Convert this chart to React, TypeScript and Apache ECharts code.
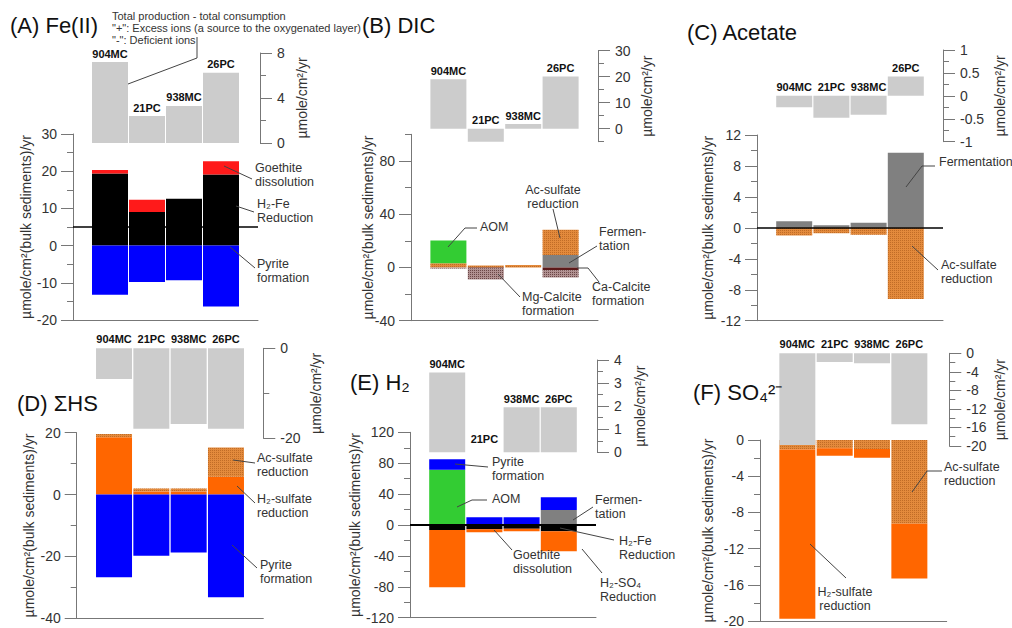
import React, { useEffect, useRef } from 'react';
import * as echarts from 'echarts';

// ---------- categories ----------
const sites = ['904MC', '21PC', '938MC', '26PC'];
const cats = ['L', ...sites, 'R'];

// ---------- (A) Fe(II) ----------
const feNet = [7.2, 2.4, 3.3, 6.25];
const feH2FeReduction = [19.4, 9.0, 12.6, 19.1];
const feGoethite = [0.9, 3.3, 0, 3.6];
const fePyrite = [-13.2, -9.8, -9.3, -16.4];
const feRefLine = 5;

// ---------- (B) DIC ----------
const dicNet = [19, -7.3, 1.8, 20.1];
const dicFermentation = [0, 0, 0, 9.3];
const dicAcSulfate = [3.2, 1.5, 1.8, 19.0];
const dicAOM = [17.0, 0, 0, 0];
const dicCaCalcite = [0, -0.7, 0, -2.2];
const dicMgCalcite = [-0.8, -8.3, 0, -5.3];

// ---------- (C) Acetate ----------
const acNet = [-0.25, -0.48, -0.41, 0.42];
const acFermentation = [0.85, 0.35, 0.65, 9.7];
const acAcSulfate = [-1.0, -0.7, -0.9, -9.2];

// ---------- (D) ΣHS ----------
const hsNet = [-6.8, -17.9, -16.8, -17.9];
const hsH2Sulfate = [18.5, 1.0, 1.0, 5.8];
const hsAcSulfate = [1.1, 1.0, 1.0, 9.4];
const hsPyrite = [-26.7, -19.8, -18.7, -33.2];

// ---------- (E) H2 ----------
const h2Net = [3.46, 0, 1.95, 1.95];
const h2Fermentation = [0, 0, 0, 19.5];
const h2AOM = [71.5, 0, 0, 0];
const h2Pyrite = [13.5, 10, 10, 16.5];
const h2H2FeReduction = [-6.5, -5.5, -5.0, -8.0];
const h2H2SO4Reduction = [-74, -4, -3, -26];

// ---------- (F) SO4 ----------
const so4Net = [-19.8, -1.9, -2.15, -15.3];
const so4AcSulfate = [-1.05, -0.9, -1.0, -9.25];
const so4H2Sulfate = [-18.7, -0.85, -0.95, -6.05];

// ---------- axis ranges [min, max, interval, minorSplit] ----------
const feBottomRange = [-20, 30, 10, 2];
const feTopRange = [0, 8, 4, 2];
const dicBottomRange = [-40, 100, 20, 1];
const dicBottomLabelRange = [-40, 80, 40, 1];
const dicTopRange = [-5, 30, 5, 1];
const dicTopLabelRange = [0, 30, 10, 1];
const acBottomRange = [-12, 12, 4, 2];
const acTopRange = [-1, 1, 0.5, 2];
const hsBottomRange = [-40, 20, 20, 2];
const hsTopRange = [-20, 0, 20, 2];
const h2BottomRange = [-120, 120, 40, 2];
const h2TopRange = [0, 4, 1, 2];
const so4BottomRange = [-20, 0, 4, 2];
const so4TopRange = [-20, 0, 4, 2];

const BOTTOM_UNIT = 'µmole/cm²(bulk sediments)/yr';
const TOP_UNIT = 'µmole/cm²/yr';

const FONT = '"Liberation Sans", Arial, Helvetica, sans-serif';
const AX = '#777777';
const TXT = '#333333';

const ORANGE = '#FF6600';
const BLUE = '#0000FF';
const GREEN = '#33CC33';
const RED = '#FF1A1A';
const BLACK = '#000000';
const FERM = '#808080';
const CACAL = '#5C1A1A';
const NETGRAY = '#CCCCCC';

const dotted = (bg: string, dot: string) => ({
  color: bg,
  decal: {
    symbol: 'rect',
    symbolSize: 1,
    color: dot,
    dashArrayX: [1, 1],
    dashArrayY: [1, 1],
    rotation: 0,
  },
});
const acSulfateStyle = dotted('#E38A3C', 'rgba(150,70,10,0.45)');
const mgCalStyle = dotted('#B09090', 'rgba(60,20,20,0.6)');

const pad = (a: any[]) => ['-', ...a, '-'];

function buildOption() {
  const grid: any[] = [];
  const xAxis: any[] = [];
  const yAxis: any[] = [];
  const series: any[] = [];

  const addGrid = (rect: number[], yOpt: any, showX: boolean) => {
    const gi = grid.length;
    grid.push({ left: rect[0], top: rect[1], width: rect[2], height: rect[3], containLabel: false });
    xAxis.push({
      type: 'category',
      gridIndex: gi,
      data: cats,
      boundaryGap: false,
      show: showX,
      axisLine: { show: showX, onZero: false, lineStyle: { color: AX } },
      axisTick: { show: false },
      axisLabel: { show: false },
      splitLine: { show: false },
    });
    yAxis.push({ type: 'value', gridIndex: gi, splitLine: { show: false }, minorSplitLine: { show: false }, ...yOpt });
    return gi;
  };

  const valAxis = (
    side: 'left' | 'right',
    r: number[],
    o: { gap?: number; offset?: number; name?: string; tickLen?: number; labels?: boolean; line?: boolean } = {}
  ) => ({
    position: side,
    offset: o.offset ?? 0,
    min: r[0],
    max: r[1],
    interval: r[2],
    axisLine: { show: o.line ?? true, onZero: false, lineStyle: { color: AX } },
    axisTick: { show: true, length: o.tickLen ?? 12, lineStyle: { color: AX } },
    minorTick: { show: r[3] > 1, splitNumber: r[3], length: 6, lineStyle: { color: AX } },
    axisLabel: {
      show: o.labels ?? true,
      fontSize: 14,
      color: TXT,
      margin: side === 'left' ? 16 : 17,
      fontFamily: FONT,
    },
    name: o.name ?? '',
    nameLocation: 'middle',
    nameGap: o.gap ?? 30,
    nameRotate: 90,
    nameTextStyle: { fontSize: 14, color: TXT, fontFamily: FONT },
  });

  const panel = (p: any) => {
    const gb = addGrid(p.bRect, p.bAxis, true);
    p.parts.forEach((part: any, i: number) => {
      const s: any = {
        type: 'bar',
        name: part.name,
        xAxisIndex: gb,
        yAxisIndex: gb,
        stack: 'stack' + gb,
        barWidth: 36,
        silent: true,
        data: pad(part.data),
        itemStyle: part.style,
      };
      if (i === 0 && p.ref != null) {
        s.markLine = {
          silent: true,
          symbol: 'none',
          label: { show: false },
          lineStyle: { color: '#000', width: p.refWidth ?? 1.5, type: 'solid' },
          data: [{ yAxis: p.ref }],
        };
      }
      series.push(s);
    });
    if (p.bAux) addGrid(p.bAux.rect, p.bAux.axis, false);
    const gt = addGrid(p.tRect, p.tAxis, false);
    const dist: number[] = p.labelDist ?? [3, 3, 3, 3];
    series.push({
      type: 'bar',
      name: 'net',
      xAxisIndex: gt,
      yAxisIndex: gt,
      barWidth: 36,
      silent: true,
      itemStyle: { color: NETGRAY },
      label: {
        show: true,
        position: 'top',
        formatter: '{b}',
        fontSize: 11,
        fontWeight: 'bold',
        color: '#111',
        fontFamily: FONT,
      },
      data: pad(p.net.map((v: number, i: number) => ({ value: v, label: { distance: dist[i] } }))),
    });
    if (p.tAux) addGrid(p.tAux.rect, p.tAux.axis, false);
  };

  // (A)
  panel({
    bRect: [73, 134, 185, 186],
    bAxis: valAxis('left', feBottomRange, { gap: 38, name: BOTTOM_UNIT }),
    tRect: [73, 53, 185, 90],
    tAxis: valAxis('right', feTopRange, { gap: 35, offset: 2, name: TOP_UNIT }),
    net: feNet,
    ref: feRefLine,
    parts: [
      { name: 'H₂-Fe Reduction', data: feH2FeReduction, style: { color: BLACK } },
      { name: 'Goethite dissolution', data: feGoethite, style: { color: RED } },
      { name: 'Pyrite formation', data: fePyrite, style: { color: BLUE } },
    ],
  });

  // (B)
  panel({
    bRect: [411, 134.3, 187, 186.4],
    bAxis: valAxis('left', dicBottomRange, { gap: 36, name: BOTTOM_UNIT, tickLen: 6, labels: false }),
    bAux: {
      rect: [411, 160.9, 187, 159.8],
      axis: valAxis('left', dicBottomLabelRange, { line: false }),
    },
    tRect: [411, 50.7, 187, 91],
    tAxis: valAxis('right', dicTopRange, { gap: 42, name: TOP_UNIT, tickLen: 6, labels: false }),
    tAux: {
      rect: [411, 50.7, 187, 78],
      axis: valAxis('right', dicTopLabelRange, { line: false }),
    },
    net: dicNet,
    parts: [
      { name: 'Fermentation', data: dicFermentation, style: { color: FERM } },
      { name: 'Ac-sulfate reduction', data: dicAcSulfate, style: acSulfateStyle },
      { name: 'AOM', data: dicAOM, style: { color: GREEN } },
      { name: 'Ca-Calcite formation', data: dicCaCalcite, style: { color: CACAL } },
      { name: 'Mg-Calcite formation', data: dicMgCalcite, style: mgCalStyle },
    ],
  });

  // (C)
  panel({
    bRect: [757, 135, 186, 185.7],
    bAxis: valAxis('left', acBottomRange, { gap: 42, name: BOTTOM_UNIT }),
    tRect: [757, 50, 186, 91.7],
    tAxis: valAxis('right', acTopRange, { gap: 50, name: TOP_UNIT }),
    net: acNet,
    ref: 0,
    parts: [
      { name: 'Fermentation', data: acFermentation, style: { color: FERM } },
      { name: 'Ac-sulfate reduction', data: acAcSulfate, style: acSulfateStyle },
    ],
  });

  // (D)
  panel({
    bRect: [76.7, 432.7, 186.6, 185.6],
    bAxis: valAxis('left', hsBottomRange, { gap: 41, name: BOTTOM_UNIT }),
    tRect: [76.7, 348.3, 186.6, 90],
    tAxis: valAxis('right', hsTopRange, { gap: 46, name: TOP_UNIT }),
    net: hsNet,
    labelDist: [4, 4, 4, 4],
    parts: [
      { name: 'H₂-sulfate reduction', data: hsH2Sulfate, style: { color: ORANGE } },
      { name: 'Ac-sulfate reduction', data: hsAcSulfate, style: acSulfateStyle },
      { name: 'Pyrite formation', data: hsPyrite, style: { color: BLUE } },
    ],
  });

  // (E)
  panel({
    bRect: [410, 432.3, 186, 185.4],
    bAxis: valAxis('left', h2BottomRange, { gap: 35, name: BOTTOM_UNIT }),
    tRect: [410, 360, 186, 92.3],
    tAxis: valAxis('right', h2TopRange, { gap: 36, offset: 1, name: TOP_UNIT }),
    net: h2Net,
    labelDist: [3, 8, 3, 3],
    ref: 0,
    refWidth: 2,
    parts: [
      { name: 'Fermentation', data: h2Fermentation, style: { color: FERM } },
      { name: 'AOM', data: h2AOM, style: { color: GREEN } },
      { name: 'Pyrite formation', data: h2Pyrite, style: { color: BLUE } },
      { name: 'H₂-Fe Reduction', data: h2H2FeReduction, style: { color: BLACK } },
      { name: 'H₂-SO₄ Reduction', data: h2H2SO4Reduction, style: { color: ORANGE } },
    ],
  });

  // (F)
  panel({
    bRect: [760, 440, 186.7, 184.3],
    bAxis: valAxis('left', so4BottomRange, { gap: 45, name: BOTTOM_UNIT }),
    tRect: [760, 353.3, 186.7, 92.7],
    tAxis: valAxis('right', so4TopRange, { gap: 44, offset: 2.6, name: TOP_UNIT }),
    net: so4Net,
    labelDist: [4, 4, 4, 4],
    parts: [
      { name: 'Ac-sulfate reduction', data: so4AcSulfate, style: acSulfateStyle },
      { name: 'H₂-sulfate reduction', data: so4H2Sulfate, style: { color: ORANGE } },
    ],
  });

  // ---------- annotations ----------
  const title = (text: string, x: number, y: number) => ({
    type: 'text',
    x,
    y,
    z: 100,
    style: { text, fontSize: 22, fill: '#111', fontFamily: FONT, align: 'left', verticalAlign: 'middle' },
  });
  const note = (text: string, x: number, y1: number, align = 'left') => ({
    type: 'text',
    x,
    y: y1 - 7,
    z: 100,
    style: { text, fontSize: 12.5, lineHeight: 14, fill: TXT, fontFamily: FONT, align, verticalAlign: 'top' },
  });
  const lead = (points: number[][]) => ({
    type: 'polyline',
    z: 100,
    shape: { points },
    style: { stroke: '#444', lineWidth: 1, fill: null },
  });

  const elements: any[] = [
    title('(A) Fe(II)', 10, 25),
    title('(B) DIC', 362, 25),
    title('(C) Acetate', 687, 32),
    title('(D) ΣHS', 17, 403),
    title('(E) H₂', 350, 382),
    title('(F) SO₄²⁻', 693, 392),
    {
      type: 'text',
      x: 112,
      y: 10,
      z: 100,
      style: {
        text: 'Total production - total consumption\n"+": Excess ions (a source to the oxygenated layer)\n"-": Deficient ions',
        fontSize: 11,
        lineHeight: 12,
        fill: TXT,
        fontFamily: FONT,
        align: 'left',
        verticalAlign: 'top',
      },
    },
    lead([[197, 37], [197, 58], [128, 84]]),
    // A
    note('Goethite\ndissolution', 255, 168),
    lead([[224, 166], [252, 179]]),
    note('H₂-Fe\nReduction', 257, 204),
    lead([[236, 206], [254, 212]]),
    note('Pyrite\nformation', 257, 264),
    lead([[230, 247], [255, 268]]),
    // B
    note('AOM', 480, 227),
    lead([[448, 247], [465, 228], [477, 228]]),
    note('Ac-sulfate\nreduction', 553, 190, 'center'),
    lead([[553, 209], [560, 238]]),
    note('Fermen-\ntation', 599, 232),
    lead([[569, 263], [597, 246]]),
    note('Ca-Calcite\nformation', 592, 287),
    lead([[577, 268], [588, 268], [599, 282]]),
    note('Mg-Calcite\nformation', 522, 297),
    lead([[498, 274], [520, 297]]),
    // C
    note('Fermentation', 939, 162),
    lead([[906, 187], [922, 166], [935, 166]]),
    note('Ac-sulfate\nreduction', 941, 265),
    lead([[912, 246], [938, 270]]),
    // D
    note('Ac-sulfate\nreduction', 257, 458),
    lead([[233, 460], [255, 463]]),
    note('H₂-sulfate\nreduction', 257, 499),
    lead([[237, 486], [255, 503]]),
    note('Pyrite\nformation', 260, 565),
    lead([[232, 545], [257, 568]]),
    // E
    note('Pyrite\nformation', 492, 462),
    lead([[455, 464], [488, 467]]),
    note('AOM', 492, 499),
    lead([[457, 507], [472, 500], [487, 500]]),
    note('Fermen-\ntation', 595, 500),
    lead([[573, 520], [593, 507]]),
    note('H₂-Fe\nReduction', 619, 541),
    lead([[560, 528], [614, 540]]),
    note('Goethite\ndissolution', 513, 555),
    lead([[494, 530], [512, 550]]),
    note('H₂-SO₄\nReduction', 600, 583),
    lead([[582, 549], [602, 573]]),
    // F
    note('Ac-sulfate\nreduction', 944, 467),
    lead([[912, 492], [927, 471], [942, 471]]),
    note('H₂-sulfate\nreduction', 845, 592, 'center'),
    lead([[810, 544], [846, 578]]),
  ];

  return {
    animation: false,
    backgroundColor: '#ffffff',
    textStyle: { fontFamily: FONT },
    grid,
    xAxis,
    yAxis,
    series,
    graphic: { elements },
  };
}

export default function App() {
  const ref = useRef<HTMLDivElement>(null);
  useEffect(() => {
    if (!ref.current) return;
    const chart = echarts.init(ref.current, null, { renderer: 'svg' });
    chart.setOption(buildOption() as any);
    return () => chart.dispose();
  }, []);
  return (
    <div
      ref={ref}
      style={{ position: 'absolute', left: 0, top: 0, width: 1012, height: 628, background: '#fff' }}
    />
  );
}
